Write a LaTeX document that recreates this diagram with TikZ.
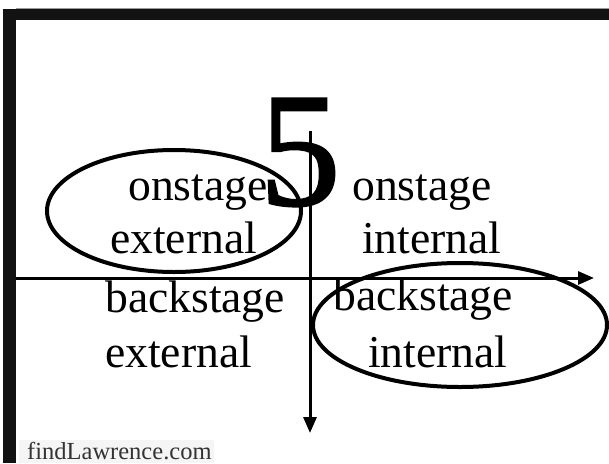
\documentclass[tikz,border=0pt]{standalone}
\usepackage{fontspec}
\setmainfont{Liberation Serif}
\newfontfamily\fivefont[FakeBold=1.2]{Liberation Serif}
\usetikzlibrary{arrows.meta,shapes.geometric}
\begin{document}
\begin{tikzpicture}[x=1pt,y=-1pt,
  lbl/.style={inner sep=0pt,anchor=base west,font=\fontsize{45.6}{55}\selectfont},
  oval/.style={draw,ellipse,line width=4pt,inner sep=0pt},
  axis/.style={line width=3pt,-{Triangle[length=16pt,width=13pt]}},
  bar/.style={fill=black!93}]
\useasboundingbox (0,0) rectangle (609,463);
% frame bars
\fill[bar] (3,9) rectangle (609,20);
\fill[bar] (3,9) rectangle (16,463);
\draw[black!40,line width=0.8pt] (16,8.2) -- (609,8.2);
% big numeral
\node[inner sep=0pt,anchor=base,font=\fivefont\fontsize{163}{163}\selectfont] (five) at (300,205) {5};
% quadrant labels
\node[lbl] (ote1) at (128,200) {onstage};
\node[lbl] (ote2) at (110,253) {external};
\node[lbl] (oti1) at (352,200) {onstage};
\node[lbl] (oti2) at (362,253) {internal};
\node[lbl] (bse1) at (105,312) {backstage};
\node[lbl] (bse2) at (105,367) {external};
\node[lbl] (bsi1) at (333,310) {backstage};
\node[lbl] (bsi2) at (368,367) {internal};
% axes
\coordinate (hs) at (16,278);
\coordinate (he) at (594,278);
\coordinate (vs) at (310,131);
\coordinate (ve) at (310,433);
\draw[axis] (hs) -- (he);
\draw[axis] (vs) -- (ve);
% ellipses
\node[oval,minimum width=254pt,minimum height=122pt] (e1) at (174,211) {};
\node[oval,minimum width=294pt,minimum height=124pt] (e2) at (460,325) {};
% watermark
\fill[black!4] (19,440) rectangle (214,463);
\node[inner sep=0pt,anchor=base west,text=black!80,font=\fontsize{24.5}{26}\selectfont] (wm) at (27,459) {findLawrence.com};
\end{tikzpicture}
\end{document}
